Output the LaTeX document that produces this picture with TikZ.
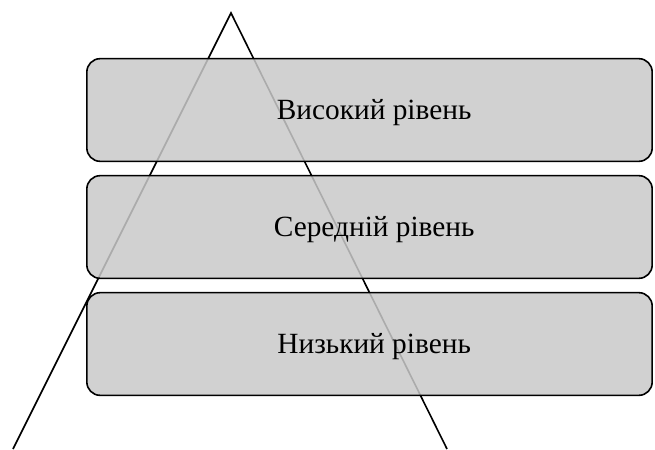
\documentclass[tikz,border=0pt]{standalone}
\usepackage{fontspec}
\setmainfont{Liberation Serif}
\definecolor{boxgray}{gray}{0.79}
\begin{document}
\begin{tikzpicture}[x=0.75pt,y=-0.75pt,
		level/.style={draw,line width=1.2pt,rounded corners=10pt,fill=boxgray,fill opacity=0.85,text opacity=1,
			minimum width=424pt,minimum height=77pt,text height=14.5pt,text depth=0pt,
			font=\fontsize{22}{26}\selectfont}]
		\useasboundingbox (0,0) rectangle (655,449);
		% triangle
		\coordinate (top) at (231,13);
		\coordinate (left) at (13,449);
		\coordinate (right) at (447,449);
		\draw [line width=1.2pt] (left) -- (top) -- (right);
		% levels
		\node[level] (high) at (369.5,110) {\hspace*{7pt}Високий рівень};
		\node[level] (mid) at (369.5,227) {\hspace*{7pt}Середній рівень};
		\node[level] (low) at (369.5,344) {\hspace*{7pt}Низький рівень};
\end{tikzpicture}
\end{document}
